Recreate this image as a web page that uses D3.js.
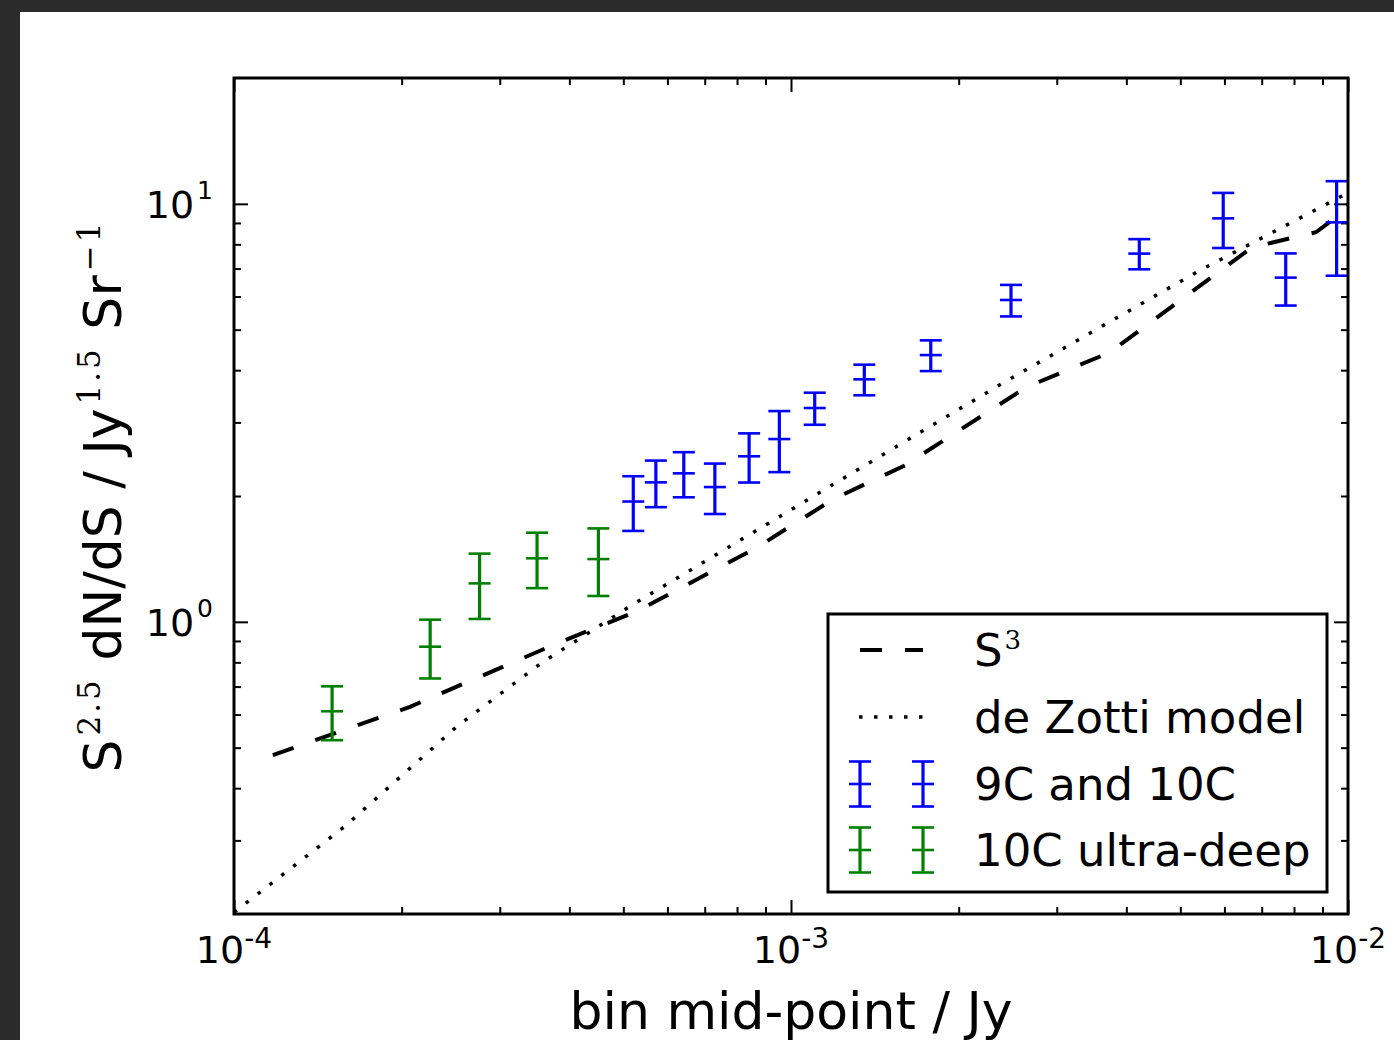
<!DOCTYPE html>
<html>
<head>
<meta charset="utf-8">
<script src="https://cdn.jsdelivr.net/npm/d3@7"></script>
<style>
  html, body { margin: 0; padding: 0; background: #2b2b2b; }
  svg { display: block; }
</style>
</head>
<body>
<svg id="chart" width="1394" height="1040"></svg>
<script>
// Source counts: S^2.5 dN/dS against flux-density bin mid-point

// 10C ultra-deep
const deepFlux = [1.50e-4, 2.25e-4, 2.76e-4, 3.50e-4, 4.51e-4];
const deepCounts = [0.611, 0.872, 1.236, 1.419, 1.413];
const deepErr = [0.09, 0.14, 0.22, 0.215, 0.26];

// 9C and 10C
const wideFlux = [5.21e-4, 5.72e-4, 6.42e-4, 7.30e-4, 8.41e-4, 9.53e-4, 1.103e-3,
                  1.354e-3, 1.782e-3, 2.483e-3, 4.22e-3, 5.97e-3, 7.73e-3, 9.54e-3];
const wideCounts = [1.94, 2.156, 2.266, 2.101, 2.489, 2.737, 3.247,
                    3.803, 4.347, 5.888, 7.602, 9.23, 6.66, 9.03];
const wideErr = [0.29, 0.275, 0.28, 0.29, 0.335, 0.456, 0.286,
                 0.32, 0.367, 0.51, 0.63, 1.39, 0.95, 2.3];

// S^3 simulation
const s3Flux = [1.174e-4, 2.07e-4, 3.771e-4, 5.291e-4, 8.69e-4, 1.19e-3, 1.602e-3,
                2.642e-3, 3.738e-3, 6.725e-3, 8.76e-3, 9.2e-3, 1.0e-2];
const s3Counts = [0.480, 0.626, 0.884, 1.060, 1.507, 1.964, 2.368,
                  3.639, 4.413, 7.87, 8.55, 8.98, 9.97];

// de Zotti model
const dzFlux = [1e-4, 1.582e-4, 2.514e-4, 3.558e-4, 5.12e-4, 8.44e-4, 1.57e-3,
                2.372e-3, 3.587e-3, 5.424e-3, 1e-2];
const dzCounts = [0.2018, 0.3242, 0.5623, 0.796, 1.086, 1.619, 2.659,
                  3.690, 5.064, 6.934, 10.62];

// Axis ticks
const xMajor = [1e-4, 1e-3, 1e-2];
const xMajorExp = ["-4", "-3", "-2"];
const yMajor = [1, 10];
const yMajorExp = ["0", "1"];

const legendLabels = ["S", "de Zotti model", "9C and 10C", "10C ultra-deep"];

// ---------------------------------------------------------------
const svg = d3.select("#chart");
const W = 1394, H = 1040;
const L = 234, R = 1348, T = 78, B = 914;

svg.append("rect").attr("width", W).attr("height", H).attr("fill", "#2b2b2b");
svg.append("rect").attr("x", 20).attr("y", 12).attr("width", W - 20).attr("height", H - 12).attr("fill", "#ffffff");

const x = d3.scaleLog().domain([1e-4, 1e-2]).range([L, R]);
const y = d3.scaleLog().domain([0.2, 20]).range([B, T]);

const xMinor = [];
[1e-4, 1e-3].forEach(d => { for (let k = 2; k <= 9; k++) xMinor.push(d * k); });
const yMinor = [];
[0.1, 1].forEach(d => { for (let k = 2; k <= 9; k++) yMinor.push(d * k); });
yMinor.push(20);

svg.append("defs").append("clipPath").attr("id", "plotclip")
  .append("rect").attr("x", L).attr("y", T).attr("width", R - L).attr("height", B - T);

// inward ticks on all four sides
function styleAxis(g) {
  g.select(".domain").remove();
  g.selectAll(".tick line").attr("stroke", "#000").attr("stroke-width", 2);
  g.selectAll(".tick text").remove();
}
const axes = [
  [d3.axisBottom, x, `translate(0,${B})`],
  [d3.axisTop, x, `translate(0,${T})`],
  [d3.axisLeft, y, `translate(${L},0)`],
  [d3.axisRight, y, `translate(${R},0)`]
];
axes.forEach(([fn, sc, tr]) => {
  const isX = sc === x;
  svg.append("g").attr("transform", tr)
    .call(fn(sc).tickValues(isX ? xMajor : yMajor).tickSize(-14).tickFormat(""))
    .call(styleAxis);
  svg.append("g").attr("transform", tr)
    .call(fn(sc).tickValues((isX ? xMinor : yMinor).filter(v => v > sc.domain()[0] && v < sc.domain()[1]))
      .tickSize(-7).tickFormat(""))
    .call(styleAxis);
});

// tick labels
const font = "'DejaVu Sans', sans-serif";
xMajor.forEach((v, i) => {
  const t = svg.append("text").attr("x", x(v)).attr("y", 963)
    .attr("text-anchor", "middle").attr("font-family", font).attr("font-size", 38).attr("fill", "#000");
  t.append("tspan").text("10");
  t.append("tspan").attr("dy", -15).attr("font-size", 28).text(xMajorExp[i]);
});
yMajor.forEach((v, i) => {
  const t = svg.append("text").attr("x", 213).attr("y", y(v) + 14)
    .attr("text-anchor", "end").attr("font-family", font).attr("font-size", 38).attr("fill", "#000");
  t.append("tspan").text("10");
  t.append("tspan").attr("dx", 3).attr("dy", -19).attr("font-size", 25).text(yMajorExp[i]);
});

// axis labels
svg.append("text").attr("x", (L + R) / 2).attr("y", 1029)
  .attr("text-anchor", "middle").attr("font-family", font).attr("font-size", 52).attr("fill", "#000")
  .text("bin mid-point / Jy");

const serif = "'DejaVu Serif', 'Liberation Serif', serif";
const yl = svg.append("text").attr("transform", `translate(121,${(T + B) / 2}) rotate(-90)`)
  .attr("text-anchor", "middle").attr("font-family", font).attr("font-size", 52).attr("fill", "#000");
function ySup(txt) {
  yl.append("tspan").attr("dx", 4).attr("dy", -21).attr("font-family", serif)
    .attr("font-size", 31).attr("letter-spacing", 3).text(txt);
}
yl.append("tspan").text("S");
ySup("2.5");
yl.append("tspan").attr("dy", 21).text(" dN/dS / Jy");
ySup("1.5");
yl.append("tspan").attr("dy", 21).text(" Sr");
ySup("\u22121");

// plotted content
const plot = svg.append("g").attr("clip-path", "url(#plotclip)");

const line = d3.line().x(d => x(d[0])).y(d => y(d[1]));

plot.append("path").datum(dzFlux.map((f, i) => [f, dzCounts[i]]))
  .attr("d", line).attr("fill", "none").attr("stroke", "#000")
  .attr("stroke-width", 3.5).attr("stroke-dasharray", "3.5 11.5");

plot.append("path").datum(s3Flux.map((f, i) => [f, s3Counts[i]]))
  .attr("d", line).attr("fill", "none").attr("stroke", "#000")
  .attr("stroke-width", 4).attr("stroke-dasharray", "22 23");

function errorBars(g, xs, ys, es, color) {
  const pts = xs.map((f, i) => ({ f, v: ys[i], e: es[i] }));
  const grp = g.selectAll(null).data(pts).enter().append("g")
    .attr("stroke", color).attr("fill", "none");
  grp.append("line")
    .attr("x1", d => x(d.f)).attr("x2", d => x(d.f))
    .attr("y1", d => y(d.v - d.e)).attr("y2", d => y(d.v + d.e))
    .attr("stroke-width", 3.2);
  [d => d.v - d.e, d => d.v + d.e, d => d.v].forEach(acc => {
    grp.append("line")
      .attr("x1", d => x(d.f) - 11).attr("x2", d => x(d.f) + 11)
      .attr("y1", d => y(acc(d))).attr("y2", d => y(acc(d)))
      .attr("stroke-width", 2.6);
  });
}
errorBars(plot, deepFlux, deepCounts, deepErr, "#008000");
errorBars(plot, wideFlux, wideCounts, wideErr, "#0000ff");

// frame
svg.append("rect").attr("x", L).attr("y", T).attr("width", R - L).attr("height", B - T)
  .attr("fill", "none").attr("stroke", "#000").attr("stroke-width", 3);

// legend
const lg = svg.append("g");
lg.append("rect").attr("x", 828).attr("y", 614).attr("width", 499).attr("height", 278)
  .attr("fill", "#fff").attr("stroke", "#000").attr("stroke-width", 3);

const rowY = [650, 717, 784, 850];
lg.append("line").attr("x1", 860).attr("x2", 923).attr("y1", rowY[0]).attr("y2", rowY[0])
  .attr("stroke", "#000").attr("stroke-width", 4).attr("stroke-dasharray", "22 23");
lg.append("line").attr("x1", 859).attr("x2", 925).attr("y1", rowY[1]).attr("y2", rowY[1])
  .attr("stroke", "#000").attr("stroke-width", 3.5).attr("stroke-dasharray", "3.5 11.5");

function legendBar(cx, cy, color) {
  const g = lg.append("g").attr("stroke", color);
  g.append("line").attr("x1", cx).attr("x2", cx).attr("y1", cy - 22.5).attr("y2", cy + 22.5).attr("stroke-width", 3.2);
  [cy - 22.5, cy, cy + 22.5].forEach(yy => {
    g.append("line").attr("x1", cx - 11).attr("x2", cx + 11).attr("y1", yy).attr("y2", yy).attr("stroke-width", 2.6);
  });
}
[860, 923].forEach(cx => { legendBar(cx, rowY[2], "#0000ff"); legendBar(cx, rowY[3], "#008000"); });

legendLabels.forEach((lab, i) => {
  const t = lg.append("text").attr("x", 974).attr("y", rowY[i] + 16)
    .attr("font-family", font).attr("font-size", 45).attr("fill", "#000");
  t.append("tspan").text(lab);
  if (i === 0) t.append("tspan").attr("dx", 2).attr("dy", -17).attr("font-family", serif).attr("font-size", 26).text("3");
});
</script>
</body>
</html>
